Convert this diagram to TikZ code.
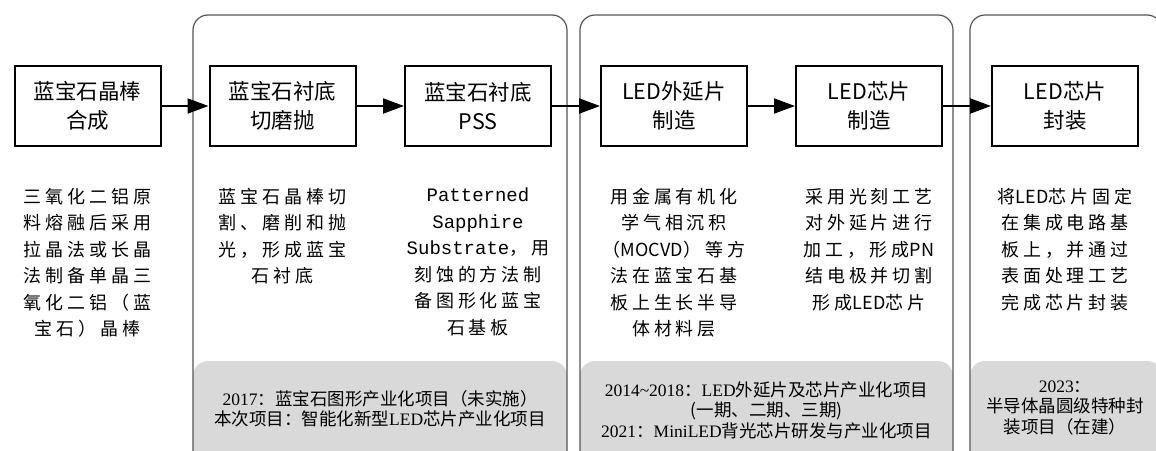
\documentclass[tikz,border=0pt]{standalone}
\usepackage{fontspec}
\setmainfont{Noto Sans CJK SC}
\newfontfamily\cjkfont{Noto Sans CJK SC}
\newfontfamily\descfont{Noto Sans CJK SC}[LetterSpace=22]
\newfontfamily\monofont{Liberation Mono}
\newfontfamily\tnr{Liberation Serif}
\usetikzlibrary{arrows.meta}
\tikzset{
  stage-box/.style={
    draw=black,
    line width=2pt,
    minimum width=146pt,
    minimum height=80pt,
    inner sep=0pt,
    align=center,
    font=\cjkfont\fontsize{21.5}{29}\selectfont
  },
  stage-text/.style={
    anchor=north,
    inner sep=0pt,
    align=center,
    font=\descfont\fontsize{18}{26.5}\selectfont
  },
  band-text/.style={
    inner sep=0pt,
    align=center,
    font=\cjkfont\fontsize{17.5}{20.5}\selectfont
  },
  stage-frame/.style={draw=framegray, line width=1.2pt, rounded corners=15pt},
  band-gray/.style={fill=bandgray, rounded corners=15pt},
  flow/.style={line width=2pt, -{Triangle[length=21pt,width=15pt]}}
}
\definecolor{framegray}{RGB}{85,85,85}
\definecolor{bandgray}{RGB}{217,217,217}
\newcommand{\stageframe}[2]{
  \fill[band-gray] (#1,361) rectangle (#2,475);
  \draw[stage-frame] (#1,15) rectangle (#2,475);
}
\newcommand{\lat}[1]{{\cjkfont #1}}
\newcommand{\mono}[1]{{\monofont\fontsize{19}{26.5}\selectfont #1}}

\begin{document}
\begin{tikzpicture}[x=1pt,y=-1pt]
  \useasboundingbox (0,0) rectangle (1156,450);
  % Frames with project bands
  \stageframe{193}{567}
  \stageframe{580}{953}
  \stageframe{970}{1162}
  % Process steps
  \node[stage-box] (ingot) at (87.5,106) {蓝宝石晶棒\\合成};
  \node[stage-box] (polish) at (282.5,106) {蓝宝石衬底\\切磨抛};
  \node[stage-box] (pss) at (478,106) {蓝宝石衬底\\PSS};
  \node[stage-box] (epi) at (674,106) {LED外延片\\制造};
  \node[stage-box] (chip) at (869,106) {LED芯片\\制造};
  \node[stage-box] (pack) at (1065,106) {LED芯片\\封装};
  \draw[flow] (ingot) -- (polish);
  \draw[flow] (polish) -- (pss);
  \draw[flow] (pss) -- (epi);
  \draw[flow] (epi) -- (chip);
  \draw[flow] (chip) -- (pack);
  % Descriptions
  \node[stage-text] (ingot-text) at (87.5,188) {三氧化二铝原\\料熔融后采用\\拉晶法或长晶\\法制备单晶三\\氧化二铝（蓝\\宝石）晶棒};
  \node[stage-text] (polish-text) at (282.5,188) {蓝宝石晶棒切\\割、磨削和抛\\光，形成蓝宝\\石衬底};
  \node[stage-text] (pss-text) at (478,188) {\mono{Patterned}\\\mono{Sapphire}\\\mono{Substrate}，用\\刻蚀的方法制\\备图形化蓝宝\\石基板};
  \node[stage-text] (epi-text) at (674,188) {用金属有机化\\学气相沉积\\（\lat{MOCVD}）等方\\法在蓝宝石基\\板上生长半导\\体材料层};
  \node[stage-text] (chip-text) at (869,188) {采用光刻工艺\\对外延片进行\\加工，形成\lat{PN}\\结电极并切割\\形成\lat{LED}芯片};
  \node[stage-text] (pack-text) at (1065,188) {将\lat{LED}芯片固定\\在集成电路基\\板上，并通过\\表面处理工艺\\完成芯片封装};
  % Projects
  \node[band-text] (band-a) at (380,409) {{\tnr 2017}：蓝宝石图形产业化项目（未实施）\\本次项目：智能化新型{\tnr LED}芯片产业化项目};
  \node[band-text] (band-b) at (766.5,410) {{\tnr 2014\char`\~2018}：{\tnr LED}外延片及芯片产业化项目\\(一期、二期、三期)\\{\tnr 2021}：{\tnr MiniLED}背光芯片研发与产业化项目};
  \node[band-text] (band-c) at (1065,408) {{\tnr 2023}：\\半导体晶圆级特种封\\装项目（在建）};
\end{tikzpicture}
\end{document}
